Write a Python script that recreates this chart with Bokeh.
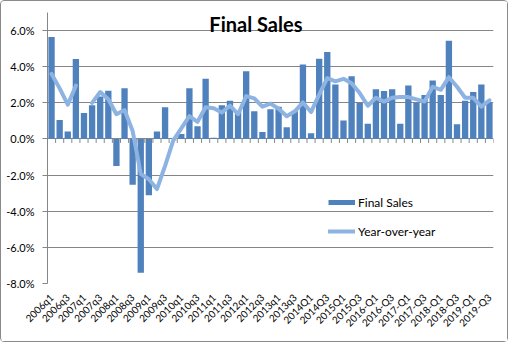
import math
from bokeh.plotting import figure
from bokeh.models import (Range1d, FixedTicker, PrintfTickFormatter, Legend, LegendItem,
                          Label, ColumnDataSource)
from bokeh.embed import file_html
from bokeh.resources import INLINE

# ---------------- data ----------------
quarters = [
    "2006q1", "2006q2", "2006q3", "2006q4",
    "2007q1", "2007q2", "2007q3", "2007q4",
    "2008q1", "2008q2", "2008q3", "2008q4",
    "2009q1", "2009q2", "2009q3", "2009q4",
    "2010q1", "2010q2", "2010q3", "2010q4",
    "2011q1", "2011q2", "2011q3", "2011q4",
    "2012q1", "2012q2", "2012q3", "2012q4",
    "2013q1", "2013q2", "2013q3", "2013q4",
    "2014Q1", "2014Q2", "2014Q3", "2014Q4",
    "2015Q1", "2015Q2", "2015Q3", "2015Q4",
    "2016-Q1", "2016-Q2", "2016-Q3", "2016-Q4",
    "2017-Q1", "2017-Q2", "2017-Q3", "2017-Q4",
    "2018-Q1", "2018-Q2", "2018-Q3", "2018-Q4",
    "2019-Q1", "2019-Q2", "2019-Q3",
]

final_sales = [
    5.65, 1.05, 0.42, 4.42,
    1.44, 1.86, 2.35, 2.67,
    -1.49, 2.81, -2.54, -7.40,
    -3.12, 0.42, 1.75, 0.04,
    0.28, 2.81, 0.70, 3.33,
    0.07, 1.86, 2.12, 1.52,
    3.75, 1.54, 0.39, 1.65,
    1.79, 0.65, 1.54, 4.12,
    0.32, 4.44, 4.81, 3.02,
    1.02, 3.47, 2.00, 0.84,
    2.75, 2.65, 2.75, 0.84,
    2.96, 2.00, 2.44, 3.23,
    2.44, 5.44, 0.81, 2.12,
    2.60, 3.02, 2.00,
]

year_over_year = [
    3.60, 2.80, 1.90, 2.95,
    float("nan"), 2.00, 2.60, 2.20,
    1.37, 1.60, 0.44, -1.93,
    -2.23, -2.77, -1.49, -0.09,
    0.58, 1.26, 0.95, 1.75,
    1.70, 1.46, 1.84, 1.37,
    2.37, 2.25, 1.79, 1.96,
    1.67, 1.26, 1.53, 2.02,
    1.49, 2.46, 3.37, 3.19,
    3.33, 3.08, 2.54, 1.84,
    2.28, 2.07, 2.28, 2.32,
    2.32, 2.19, 2.07, 2.89,
    2.72, 3.42, 2.89, 2.28,
    2.28, 1.79, 2.14,
]

y_ticks = [-8, -6, -4, -2, 0, 2, 4, 6]

# ---------------- styling ----------------
BAR = "#4F81BD"
LINE = "#8DB3E2"
GRID = "#868686"
FONT = "Lato"

idx = list(range(len(quarters)))
label_idx = idx[::2]

p = figure(width=508, height=342, output_backend="svg", toolbar_location=None,
           x_range=Range1d(-0.5, len(quarters) - 0.5), y_range=Range1d(-8, 7.0),
           min_border_left=46, min_border_right=16, min_border_top=11, min_border_bottom=60,
           styles={"border": "1px solid #8a8a8a", "border-radius": "4px", "box-sizing": "border-box"})
p.outline_line_color = None
p.background_fill_color = "white"
p.border_fill_color = "white"

# grid
p.xgrid.visible = False
p.ygrid.ticker = FixedTicker(ticks=y_ticks)
p.ygrid.grid_line_color = GRID
p.ygrid.grid_line_width = 1

# y axis
p.yaxis.ticker = FixedTicker(ticks=y_ticks)
p.yaxis.formatter = PrintfTickFormatter(format="%.1f%%")
p.yaxis.axis_line_color = GRID
p.yaxis.major_tick_line_color = GRID
p.yaxis.major_tick_out = 5
p.yaxis.major_tick_in = 0
p.yaxis.minor_tick_line_color = None
p.yaxis.major_label_standoff = 8
p.yaxis.major_label_text_font = FONT
p.yaxis.major_label_text_font_size = "11px"
p.yaxis.major_label_text_color = "#000000"

# x axis (labels only)
p.xaxis.ticker = FixedTicker(ticks=label_idx)
p.xaxis.major_label_overrides = {i: quarters[i] for i in label_idx}
p.xaxis.major_label_orientation = math.pi / 4
p.xaxis.axis_line_color = None
p.xaxis.major_tick_line_color = None
p.xaxis.minor_tick_line_color = None
p.xaxis.major_tick_out = 0
p.xaxis.major_tick_in = 0
p.xaxis.major_label_standoff = 12
p.xaxis.major_label_text_font = FONT
p.xaxis.major_label_text_font_size = "10px"
p.xaxis.major_label_text_color = "#000000"

# bars
src = ColumnDataSource(dict(x=idx, fs=final_sales, yoy=year_over_year))
bars = p.vbar(x="x", top="fs", bottom=0, width=0.78, source=src,
              fill_color=BAR, line_color=None)

# category tick marks on the zero line
edges = [i - 0.5 for i in range(len(quarters) + 1)]
p.segment(x0=edges, y0=[0] * len(edges), x1=edges, y1=[-0.22] * len(edges),
          line_color=GRID, line_width=1)

# year-over-year line
yoy_line = p.line(x="x", y="yoy", source=src, line_color=LINE, line_width=4,
                  line_join="round", line_cap="round")

# legend swatch for bars (thick flat line = small bar swatch); holds no visible point
nan = float("nan")
bar_swatch = p.line(x=[nan, nan], y=[nan, nan], line_color=BAR, line_width=5,
                    line_cap="butt")

legend = Legend(items=[LegendItem(label="Final Sales", renderers=[bar_swatch]),
                       LegendItem(label="Year-over-year", renderers=[yoy_line])],
                location=(281, 42), orientation="vertical",
                glyph_width=27, glyph_height=20, label_height=20, label_standoff=3,
                spacing=9, padding=0, margin=0,
                border_line_color=None, background_fill_alpha=0,
                label_text_font=FONT, label_text_font_size="12px",
                label_text_color="#000000")
p.add_layout(legend, "center")

# chart title drawn inside the chart area
title = Label(x=25.2, y=6.34, text="Final Sales", text_font=FONT,
              text_font_size="20px", text_font_style="bold", text_align="center",
              text_baseline="middle", text_color="#000000")
p.add_layout(title)

open("out.html", "w").write(file_html(p, INLINE))
